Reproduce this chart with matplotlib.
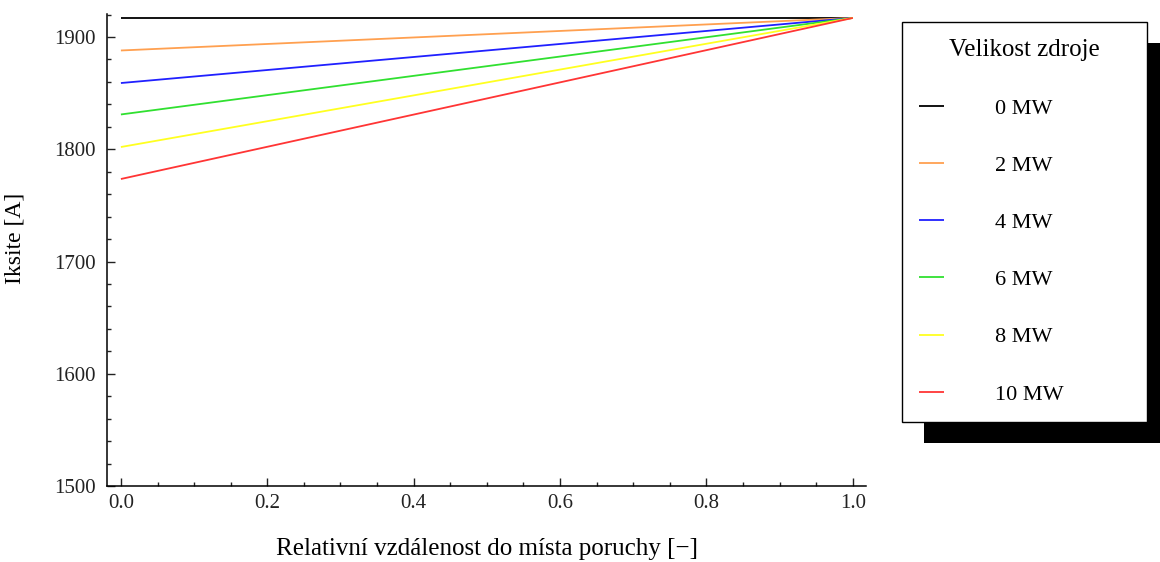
import numpy as np
import matplotlib
matplotlib.use("Agg")
import matplotlib.pyplot as plt
from matplotlib.patches import Rectangle
from matplotlib.ticker import MultipleLocator, FormatStrFormatter
from matplotlib.transforms import IdentityTransform

plt.rcParams["font.family"] = ["Liberation Serif", "DejaVu Serif"]
plt.rcParams["font.size"] = 15

# relative distance to fault location (line ends)
x = [0.0, 1.0]
labels = ["0 MW", "2 MW", "4 MW", "6 MW", "8 MW", "10 MW"]
ik_start = [1917, 1888, 1859, 1831, 1802, 1773.5]
ik_end = [1917, 1917, 1917, 1917, 1917, 1917]
colors = ["#000000", "#ffa050", "#2020ff", "#30e030", "#ffff20", "#ff3535"]

fig = plt.figure(figsize=(11.6, 5.62), dpi=100)
ax = fig.add_axes([107 / 1160, 1 - 486 / 562, (866 - 107) / 1160, (486 - 14) / 562])

for lab, y0, y1, c in zip(labels, ik_start, ik_end, colors):
    ax.plot(x, [y0, y1], color=c, lw=1.3, label=lab, solid_capstyle="butt")

ax.set_xlim(-0.019, 1.018)
ax.set_ylim(1500, 1920.5)
ax.xaxis.set_major_locator(MultipleLocator(0.2))
ax.xaxis.set_minor_locator(MultipleLocator(0.05))
ax.yaxis.set_major_locator(MultipleLocator(100))
ax.yaxis.set_minor_locator(MultipleLocator(20))
ax.xaxis.set_major_formatter(FormatStrFormatter("%.1f"))
for s in ["top", "right"]:
    ax.spines[s].set_visible(False)
for s in ["left", "bottom"]:
    ax.spines[s].set_linewidth(1.1)
ax.tick_params(which="both", direction="in", width=1.0, colors="#222222")
ax.tick_params(which="major", length=5.5)
ax.tick_params(which="minor", length=3)
ax.tick_params(axis="y", which="major", pad=8)
ax.tick_params(axis="x", which="major", pad=6)

ax.set_xlabel("Relativní vzdálenost do místa poruchy [\u2212]", fontsize=18, labelpad=18)
ax.set_ylabel("Iksite [A]", fontsize=17)
ax.yaxis.set_label_coords(-0.108, 0.525)

leg = ax.legend(
    loc="upper left",
    bbox_to_anchor=(902 / 1160, 0.2, 245 / 1160, 1 - 22 / 562 - 0.2),
    bbox_transform=fig.transFigure,
    mode="expand",
    borderaxespad=0,
    title="Velikost zdroje",
    title_fontsize=18,
    fontsize=16,
    fancybox=False,
    edgecolor="black",
    framealpha=1,
    handlelength=1.1,
    handletextpad=2.3,
    labelspacing=1.65,
    borderpad=0.78,
)
leg.get_frame().set_linewidth(1.0)
leg.set_zorder(5)

fig.canvas.draw()
bb = leg.get_window_extent()
shadow = Rectangle((bb.x0 + 22, bb.y0 - 21), bb.width, bb.height, transform=IdentityTransform(),
                   facecolor="black", edgecolor="none", zorder=4, clip_on=False)
ax.add_artist(shadow)
shadow.set_transform(IdentityTransform())

fig.savefig("out.png", dpi=100)
